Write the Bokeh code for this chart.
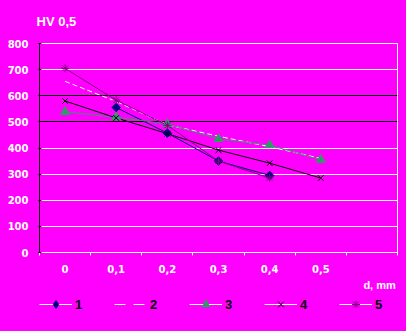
import numpy as np
from bokeh.plotting import figure
from bokeh.layouts import column
from bokeh.models import Range1d, FixedTicker, Grid, Legend, LegendItem, LinearAxis
from bokeh.embed import file_html
from bokeh.resources import INLINE

# ---- data ----
categories = ["0", "0,1", "0,2", "0,3", "0,4", "0,5", ""]
y_ticks = [0, 100, 200, 300, 400, 500, 600, 700, 800]
series_names = ["1", "2", "3", "4", "5"]
s1 = [np.nan, 555, 457, 350, 295, np.nan]
s2 = [655, 578, 489, 445, 405, 360]
s3 = [538, 518, 492, 435, 411, 355]
s4 = [580, 515, 455, 392, 342, 285]
s5 = [705, 583, 487, 350, 285, np.nan]
title_text = "HV 0,5"
x_title = "d, mm"

x = [i + 0.5 for i in range(len(s1))]

BG = "#FF00FF"
navy, green, purple = "#000080", "#339966", "#800080"

p = figure(width=406, height=293, output_backend="svg", toolbar_location=None,
           x_range=Range1d(0, len(categories)), y_range=Range1d(0, 800),
           min_border_left=39, min_border_right=9, min_border_top=43, min_border_bottom=41,
           background_fill_color=BG, border_fill_color=BG,
           outline_line_color="white")

p.title.text = title_text
p.title.align = "left"
p.title.offset = -3
p.title.standoff = 26
p.title.vertical_align = "top"
p.title.text_font = "Liberation Sans"
p.title.text_font_style = "bold"
p.title.text_font_size = "13px"
p.title.text_color = "white"

p.xgrid.visible = False
p.ygrid.visible = False
p.add_layout(Grid(dimension=1, ticker=FixedTicker(ticks=[100, 200, 300, 400, 700, 800]),
                  grid_line_color="white", grid_line_width=1))
p.add_layout(Grid(dimension=1, ticker=FixedTicker(ticks=[500, 600]),
                  grid_line_color="black", grid_line_width=1))

# y axis
ya = p.yaxis[0]
ya.ticker = FixedTicker(ticks=y_ticks)
ya.axis_line_color = "black"
ya.major_tick_line_color = "black"
ya.major_tick_in = 2
ya.major_tick_out = 1
ya.minor_tick_line_color = None
ya.major_label_standoff = 10
ya.major_label_text_font = "DejaVu Sans"
ya.major_label_text_font_style = "bold"
ya.major_label_text_font_size = "10px"
ya.major_label_text_color = "white"

# x axis (category labels centred, ticks on category boundaries)
xa = p.xaxis[0]
centers = [i + 0.5 for i in range(len(categories))]
xa.ticker = FixedTicker(ticks=centers, minor_ticks=list(range(len(categories) + 1)))
xa.major_label_overrides = {c: lab for c, lab in zip(centers, categories)}
xa.axis_line_color = "white"
xa.major_tick_line_color = None
xa.minor_tick_line_color = "white"
xa.minor_tick_in = 0
xa.minor_tick_out = 3
xa.major_label_standoff = 6
xa.major_label_text_font = "DejaVu Sans"
xa.major_label_text_font_style = "bold"
xa.major_label_text_font_size = "10px"
xa.major_label_text_color = "white"

# second, label-only axis carrying the axis title "d, mm" near the right end
title_pos = 6.65
xa2 = LinearAxis(ticker=FixedTicker(ticks=[title_pos]),
                 major_label_overrides={title_pos: x_title},
                 axis_line_color=None, major_tick_line_color=None, minor_tick_line_color=None,
                 major_label_standoff=-3,
                 major_label_text_font="Liberation Sans", major_label_text_font_style="bold",
                 major_label_text_font_size="11px", major_label_text_color="white")
p.add_layout(xa2, "below")

# series
r1 = p.line(x, s1, line_color=navy, line_width=1)
r2 = p.line(x, s2, line_color="white", line_width=1, line_dash="5 3")
r3 = p.line(x, s3, line_color=green, line_width=1)
r4 = p.line(x, s4, line_color="black", line_width=1)
r5 = p.line(x, s5, line_color=purple, line_width=1)

m1 = p.scatter(x, s1, marker="square", angle=np.pi / 4, size=6, color=navy)
m3 = p.scatter(x, s3, marker="triangle", size=9, color=green)
m4 = p.scatter(x, s4, marker="x", size=8, line_color="black", line_width=1)
m5 = p.scatter(x, s5, marker="asterisk", size=8, line_color=purple, line_width=1)

# ---- legend strip (same series, outside its visible ranges; only the legend shows) ----
lg = figure(width=406, height=38, output_backend="svg", toolbar_location=None,
            x_range=Range1d(0, 0.1), y_range=Range1d(0, 0.1),
            x_axis_type=None, y_axis_type=None,
            min_border_left=39, min_border_right=9, min_border_top=0, min_border_bottom=0,
            background_fill_color=BG, border_fill_color=BG, outline_line_color=None)
lg.xgrid.visible = False
lg.ygrid.visible = False

w1 = lg.line(x, s1, line_color="white", line_width=1)
w2 = lg.line(x, s2, line_color="white", line_width=1, line_dash="11 8")
w3 = lg.line(x, s3, line_color="white", line_width=1)
w4 = lg.line(x, s4, line_color="white", line_width=1)
w5 = lg.line(x, s5, line_color="white", line_width=1)
k1 = lg.scatter(x, s2, marker="diamond", color=navy)
k3 = lg.scatter(x, s3, marker="triangle", color=green)
k4 = lg.scatter(x, s4, marker="x", line_color="black", line_width=1)
k5 = lg.scatter(x, s5, marker="asterisk", line_color=purple, line_width=1)

legend = Legend(items=[
    LegendItem(label=series_names[0], renderers=[w1, k1]),
    LegendItem(label=series_names[1], renderers=[w2]),
    LegendItem(label=series_names[2], renderers=[w3, k3]),
    LegendItem(label=series_names[3], renderers=[w4, k4]),
    LegendItem(label=series_names[4], renderers=[w5, k5]),
], location=(0, 17), orientation="horizontal",
    glyph_width=33, glyph_height=20, label_standoff=3, label_width=8, spacing=31,
    padding=0, margin=0, border_line_color=None, background_fill_alpha=0,
    label_text_font="Liberation Sans", label_text_font_style="bold",
    label_text_font_size="13px", label_text_color="black")
lg.add_layout(legend)

layout = column(p, lg, spacing=0, styles={"background-color": BG})
open("out.html", "w").write(file_html(layout, INLINE))
